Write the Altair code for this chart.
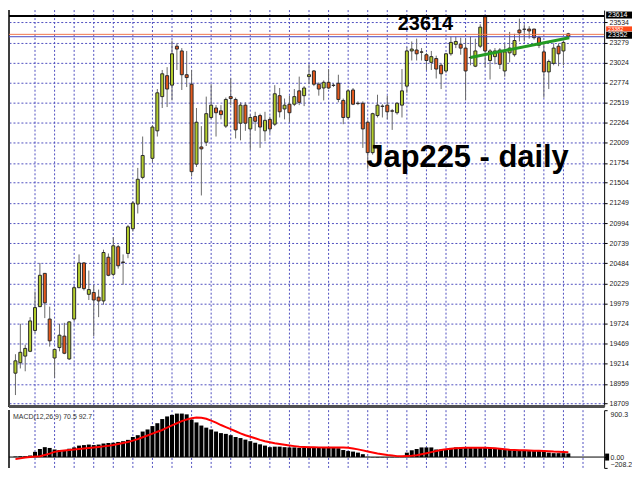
import altair as alt
import pandas as pd

# ---------------- data ----------------
opens = [19094, 19226, 19310, 19371, 19635, 19936, 20357, 19779, 19286, 19418,
         19563, 19274, 19779, 20176, 20489, 20092, 20116, 20056, 20008, 20561,
         20345, 20694, 20501, 20609, 20922, 21235, 21572, None, 21813, 22161,
         22594, 22859, 22739, 23232, 23172, 22871, 22751, 21740, 21957, 22017,
         22330, 22450, 22414, 22221, 22594, 22558, 22258, 22486, 22185, 22342,
         22354, 22161, 22306, 22245, 22606, 22438, 22498, 22498, 22667, 22606,
         22847, 22919, 22751, 22703, 22775, 22739, 22763, 22546, 22330, 22678,
         22510, 22510, 22270, 21885, 22354, 22474, 22486, 22414, 22390, 22486,
         22727, 23172, 23184, 23160, 23124, 23028, 23076, 22991, 22919, 23136,
         23256, 23256, 23208, 23090, 22979, 23232, 23605, 23051, 23100, 23184,
         22919, 23148, 23124, 23437, 23449, 23449, 23449, 23340, 23160, 22907,
         23015, 23232, 23172, 23389]
highs = [19334, 19719, 19455, 19803, 20128, 20489, 20360, 19936, 19400, 19719,
         19731, 19750, 20200, 20597, 20501, 20393, 20212, 20152, 20657, 20609,
         20814, 20718, 20597, 20970, 21271, 21692, 22089, None, 22233, 22690,
         22931, 22967, 23304, 23268, 23208, 23172, 22931, 22450, 22221, 22594,
         22751, 22486, 22486, 22582, 22823, 22582, 22522, 22522, 22366, 22402,
         22378, 22402, 22342, 22739, 22703, 22570, 22606, 22690, 22847, 22727,
         23003, 22931, 22775, 22799, 22943, 22763, 22871, 22570, 22690, 22703,
         22534, 22534, 22294, 22390, 22618, 22498, 22606, 22438, 22522, 22943,
         23220, 23292, 23328, 23208, 23148, 23172, 23112, 23015, 23148, 23352,
         23352, 23340, 23328, 23352, 23328, 23509, 23614, 23196, 23208, 23208,
         23268, 23413, 23389, 23581, 23509, 23485, 23452, 23364, 23292, 23063,
         23268, 23268, 23304, 23401]
lows = [18817, 19154, 19118, 19360, 19599, 19930, 19791, 19430, 19034, 19371,
        19334, 19262, 19755, 20170, 20140, 20020, 19563, 19803, 19960, 20321,
        20321, 20417, 20212, 20549, 20886, 21115, 21548, None, 21764, 22089,
        22450, 22462, 22546, 22931, 22678, 22715, 21584, 21704, 21343, 21969,
        22306, 22089, 22306, 22197, 22486, 22065, 22041, 22161, 21921, 22161,
        21945, 22029, 22125, 22221, 22330, 22306, 22270, 22474, 22486, 22474,
        22751, 22727, 22606, 22546, 22690, 22715, 22522, 22245, 22306, 22486,
        22486, 21945, 21680, 21860, 22330, 22330, 22306, 22173, 22366, 22330,
        22642, 23051, 23051, 23051, 22931, 22931, 22823, 22690, 22895, 23112,
        23208, 23124, 22546, 22991, 22967, 23208, 22967, 22811, 23003, 22943,
        22847, 23028, 23100, 23292, 23292, 23328, 23316, 23208, 22582, 22690,
        22991, 22979, 22991, 23340]
closes = [19250, 19358, 19407, 19755, 19924, 20333, 19984, 19503, 19395, 19575,
          19346, 19743, 20176, 20489, 20164, 20152, 20020, 20008, 20621, 20333,
          20706, 20453, 20495, 20946, 21247, 21548, 21849, None, 22209, 22642,
          22883, 22690, 23136, 23196, 22871, 22835, 21644, 22270, 21933, 22378,
          22486, 22390, 22366, 22558, 22570, 22173, 22486, 22258, 22330, 22282,
          22209, 22294, 22185, 22630, 22402, 22486, 22390, 22594, 22522, 22703,
          22871, 22751, 22690, 22775, 22703, 22735, 22558, 22330, 22667, 22498,
          22506, 22185, 21885, 22378, 22486, 22470, 22402, 22410, 22510, 22667,
          23172, 23196, 23136, 23156, 23051, 23100, 22943, 22883, 23136, 23280,
          23292, 23208, 22919, 23086, 23172, 23473, 23172, 23172, 23172, 23003,
          23160, 23208, 23304, 23401, 23445, 23425, 23340, 23244, 22907, 23039,
          23208, 23136, 23280, 23352]
macd_hist = [10, 15, 15, 30, 100, 155, 190, 175, 145, 135,
             135, 160, 185, 220, 230, 240, 230, 240, 260, 270,
             275, 290, 305, 330, 385, 420, 490, 530, 595, 650,
             730, 780, 810, 835, 835, 820, 720, 665, 605, 565,
             530, 490, 460, 445, 420, 385, 365, 335, 305, 275,
             245, 220, 190, 200, 200, 190, 185, 185, 175, 175,
             180, 180, 175, 175, 175, 175, 170, 135, 115, 105,
             85, 55, 5, -6, -8, -6, -5, -4, -3, 5,
             85, 130, 155, 185, 185, 185, 145, 145, 155, 175,
             185, 185, 185, 175, 175, 175, 175, 175, 175, 160,
             135, 135, 125, 125, 125, 115, 115, 115, 115, 85,
             75, 75, 75, 70]
macd_signal = [-40, -25, -10, 0, 10, 15, 40, 65, 100, 115,
               125, 135, 145, 155, 165, 175, 185, 195, 205, 215,
               230, 250, 270, 290, 315, 345, 380, 415, 450, 485,
               520, 565, 610, 650, 690, 720, 745, 760, 755, 735,
               700, 660, 615, 575, 535, 495, 455, 420, 390, 360,
               330, 305, 285, 265, 250, 235, 222, 210, 200, 195,
               190, 188, 186, 185, 185, 185, 185, 184, 178, 165,
               148, 128, 108, 88, 70, 55, 40, 28, 18, 15,
               20, 25, 35, 55, 75, 95, 115, 135, 150, 160,
               170, 175, 178, 178, 178, 178, 178, 176, 170, 160,
               150, 142, 137, 133, 129, 125, 122, 119, 116, 113,
               105, 100, 96, 93]
price_ticks = [18709, 18959, 19214, 19469, 19724, 19979, 20229, 20484, 20739, 20994,
               21249, 21504, 21754, 22009, 22264, 22519, 22774, 23024, 23279, 23534]
grid_bars = list(range(4, 120, 4))
day_high = 23614
ask_price = 23382
bid_price = 23352
trend_idx = [93, 113.2]
trend_price = [23090, 23340]
macd_label = "MACD(12,26,9) 70.5 92.7"
macd_ticks = [900.3, 0, -208.2]
title_text = "Jap225 - daily"
high_text = "23614"

# ---------------- layout / style ----------------
W = 598
H1 = 398
H2 = 58
GRID = "#5050bf"
FONT = "Liberation Sans"
UP = "#B4CE2C"
DOWN = "#E5591C"

n = len(opens)
df = pd.DataFrame({"idx": list(range(n)), "open": opens, "high": highs,
                   "low": lows, "close": closes})
cdf = df.dropna().copy()
cdf["dir"] = ["up" if c >= o else "down" for o, c in zip(cdf["open"], cdf["close"])]
mdf = pd.DataFrame({"idx": list(range(n)), "hist": macd_hist, "signal": macd_signal})
gdf = pd.DataFrame({"gx": grid_bars})

xs = alt.Scale(domain=[-0.3, 119.3], nice=False, zero=False)
ys = alt.Scale(domain=[18676, 23689], nice=False, zero=False)
ms = alt.Scale(domain=[-208.2, 900.3], nice=False, zero=False)
X = alt.X("idx:Q", scale=xs, axis=None)

MAIN_AXIS = alt.Axis(
    orient="right", values=price_ticks, grid=True, gridColor=GRID, gridDash=[2, 2],
    gridWidth=1, labelFont=FONT, labelFontSize=7, labelColor="#222",
    tickColor="#000", tickSize=3, domainColor="#000", labelPadding=2,
    labelOverlap=False, title=None, format="d")
MACD_AXIS = alt.Axis(
    orient="right", values=macd_ticks, grid=False, labelFont=FONT, labelFontSize=7,
    labelColor="#222", tickColor="#000", tickSize=3, domainColor="#000",
    labelPadding=3, labelFlush=True, labelOverlap=False, title=None,
    labelExpr="datum.value == 0 ? '0.00' : format(datum.value, '.1f')")


def PY(field):
    return alt.Y(field, scale=ys, axis=MAIN_AXIS)


def MY(field):
    return alt.Y(field, scale=ms, axis=MACD_AXIS)


vgrid = alt.Chart(gdf).mark_rule(color=GRID, strokeDash=[2, 2], strokeWidth=1).encode(
    x=alt.X("gx:Q", scale=xs, axis=None))

frame_left = alt.Chart(gdf).mark_rule(color="#404040", strokeWidth=1).encode(x=alt.value(0))

wicks = alt.Chart(cdf).mark_rule(color="#6a6a6a", strokeWidth=1).encode(
    x=X, y=PY("low:Q"), y2="high:Q")

bodies = alt.Chart(cdf).mark_bar(size=3, stroke="#2a2a2a", strokeWidth=1).encode(
    x=X, y=PY("open:Q"), y2="close:Q",
    color=alt.Color("dir:N", scale=alt.Scale(domain=["up", "down"], range=[UP, DOWN]),
                    legend=None))


def lv(v):
    return pd.DataFrame({"price": [v]})


high_line = alt.Chart(lv(day_high)).mark_rule(color="black", strokeWidth=2).encode(y=PY("price:Q"))
ask_line = alt.Chart(lv(ask_price)).mark_rule(color="#F07850", strokeWidth=1).encode(y=PY("price:Q"))
bid_line = alt.Chart(lv(bid_price)).mark_rule(color="#4848C0", strokeWidth=1).encode(y=PY("price:Q"))

trend = alt.Chart(pd.DataFrame({"idx": trend_idx, "price": trend_price})).mark_line(
    color="#239B23", strokeWidth=3).encode(x=X, y=PY("price:Q"))

ann1 = alt.Chart(pd.DataFrame({"idx": [83.8], "price": [23436], "t": [high_text]})).mark_text(
    font=FONT, fontSize=20, fontWeight="bold", color="black", align="center",
    baseline="alphabetic").encode(x=X, y=PY("price:Q"), text="t:N")
ann2 = alt.Chart(pd.DataFrame({"idx": [92.4], "price": [21704], "t": [title_text]})).mark_text(
    font=FONT, fontSize=31, fontWeight="bold", color="black", align="center",
    baseline="alphabetic").encode(x=X, y=PY("price:Q"), text="t:N")


def price_box(price, label, fill, h, fs, off):
    d = pd.DataFrame({"price": [price], "label": [label]})
    r = alt.Chart(d).mark_rect(height=h, clip=False, color=fill, yOffset=off).encode(
        x=alt.value(W + 2), x2=alt.value(W + 28), y=PY("price:Q"))
    t = alt.Chart(d).mark_text(align="left", baseline="middle", fontSize=fs, font=FONT,
                               color="white", clip=False, dy=off).encode(
        x=alt.value(W + 4), y=PY("price:Q"), text="label:N")
    return [r, t]


boxes = (price_box(day_high, "23614", "#000000", 7, 7, -1)
         + price_box(ask_price, "23382", "#FF4A1A", 5, 5.5, -5.5)
         + price_box(bid_price, "23352", "#000000", 7, 7, -1.5))

sep = alt.Chart(gdf).mark_rule(color="#505050", strokeWidth=2).encode(y=alt.value(H1))

main = alt.layer(vgrid, frame_left, wicks, bodies, high_line, ask_line, bid_line,
                 trend, ann1, ann2, *boxes, sep).properties(width=W, height=H1)

# ---------------- MACD panel ----------------
zero = alt.Chart(pd.DataFrame({"v": [0]})).mark_rule(color="black", strokeWidth=1).encode(
    y=MY("v:Q"))
hist = alt.Chart(mdf).mark_bar(size=4, color="black").encode(
    x=X, y=MY("hist:Q"), y2=alt.datum(0))
sig = alt.Chart(mdf).mark_line(color="#FF0000", strokeWidth=2).encode(
    x=X, y=MY("signal:Q"))
mlabel = alt.Chart(pd.DataFrame({"t": [macd_label]})).mark_text(
    align="left", baseline="top", fontSize=7, font=FONT, color="#333").encode(
    x=alt.value(4), y=alt.value(3), text="t:N")
zbox = alt.Chart(pd.DataFrame({"v": [0]})).mark_rect(height=7, clip=False, color="black").encode(
    x=alt.value(W + 1), x2=alt.value(W + 5), y=MY("v:Q"))

macd = alt.layer(vgrid, frame_left, zero, hist, sig, mlabel, zbox).properties(width=W, height=H2)

chart = alt.vconcat(main, macd, spacing=2).properties(
    padding=0, background="white").configure_view(stroke=None)

chart.save("out.html", embed_options={"renderer": "svg", "actions": False})
